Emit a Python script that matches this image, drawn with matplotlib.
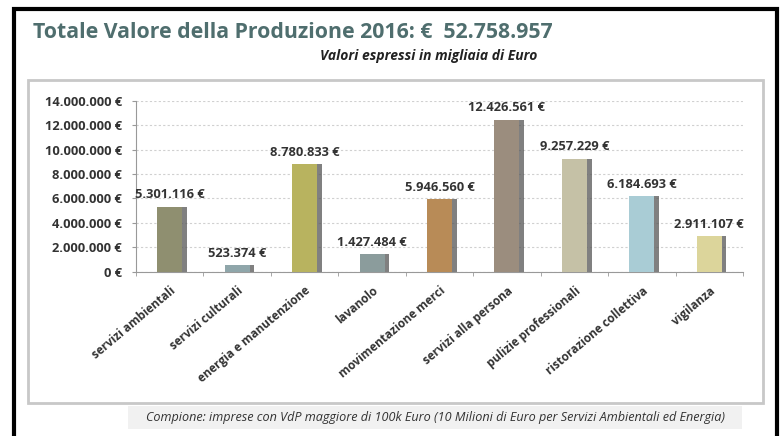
import numpy as np
import matplotlib.pyplot as plt
from matplotlib.patches import Rectangle

categorie = ["servizi ambientali", "servizi culturali", "energia e manutenzione", "lavanolo",
             "movimentazione merci", "servizi alla persona", "pulizie professionali",
             "ristorazione collettiva", "vigilanza"]
valori = [5301116, 523374, 8780833, 1427484, 5946560, 12426561, 9257229, 6184693, 2911107]
colori = ["#8f8f70", "#8fa6aa", "#b8b35f", "#8b9c9c", "#b88b57", "#9b8d7e", "#c5c1a6", "#a9ccd5", "#dcd59b"]
tick_y = [0, 2000000, 4000000, 6000000, 8000000, 10000000, 12000000, 14000000]

plt.rcParams['font.family'] = ['Open Sans', 'DejaVu Sans']

def euro(v):
    return "{:,.0f} €".format(v).replace(",", ".")

fig = plt.figure(figsize=(7.81, 4.36), dpi=100)

# cornice nera, riquadro grigio e fascia della nota
fig.patches.append(Rectangle((13.5 / 781, -0.05), (776.5 - 13.5) / 781, (436 - 9.5) / 436 + 0.05,
                             transform=fig.transFigure, fill=False, ec="black", lw=3))
fig.patches.append(Rectangle((28 / 781, (436 - 403) / 436), (763 - 28) / 781, (403 - 80) / 436,
                             transform=fig.transFigure, fill=False, ec="#c8c8c8", lw=2))
fig.patches.append(Rectangle((128 / 781, (436 - 429) / 436), (742 - 128) / 781, 23 / 436,
                             transform=fig.transFigure, fc="#f1f1f1", ec="none"))

fig.text(33 / 781, 1 - 32 / 436, "Totale Valore della Produzione 2016: €  52.758.957",
         fontsize=15.3, fontweight="bold", color="#4f6e6e", va="center", ha="left")
fig.text(429 / 781, 1 - 56 / 436, "Valori espressi in migliaia di Euro",
         fontsize=10, style="italic", fontweight="bold", color="#222222", va="center", ha="center")
fig.text(436 / 781, 1 - 417 / 436,
         "Compione: imprese con VdP maggiore di 100k Euro (10 Milioni di Euro per Servizi Ambientali ed Energia)",
         fontsize=9.1, style="italic", color="#333333", va="center", ha="center")

ax = fig.add_axes([136 / 781, 1 - 271.7 / 436, (743 - 136) / 781, (271.7 - 100.7) / 436])
x = np.arange(len(categorie))
w = 0.37
ax.bar(x + 0.07, valori, width=w, color="#555555", alpha=0.75, zorder=2)
ax.bar(x, valori, width=w, color=colori, zorder=3)

for xi, v in zip(x, valori):
    ax.text(xi, v + 450000, euro(v), ha="center", va="bottom", fontsize=9.3,
            fontweight="bold", color="#333333")

ax.set_xlim(-0.5, len(categorie) - 0.5)
ax.set_ylim(0, 14000000)
ax.set_yticks(tick_y)
ax.set_yticklabels([euro(t) for t in tick_y], fontsize=9.3, fontweight="bold", color="#333333")
ax.set_xticks(x)
ax.set_xticklabels(categorie, rotation=40, ha="right", rotation_mode="anchor",
                   fontsize=8.5, fontweight="bold", color="#333333")
ax.set_xticks(np.arange(-0.5, len(categorie)), minor=True)
ax.tick_params(axis="x", which="major", length=0, pad=9)
ax.tick_params(axis="x", which="minor", length=3, color="#999999")
ax.tick_params(axis="y", length=3, color="#999999", pad=7)

ax.grid(axis="y", linestyle=(0, (2, 2)), color="#d0d0d0", lw=0.8, zorder=0)
for s in ["top", "right"]:
    ax.spines[s].set_visible(False)
ax.spines["left"].set_color("#999999")
ax.spines["bottom"].set_color("#999999")

fig.savefig("out.png", dpi=100)
